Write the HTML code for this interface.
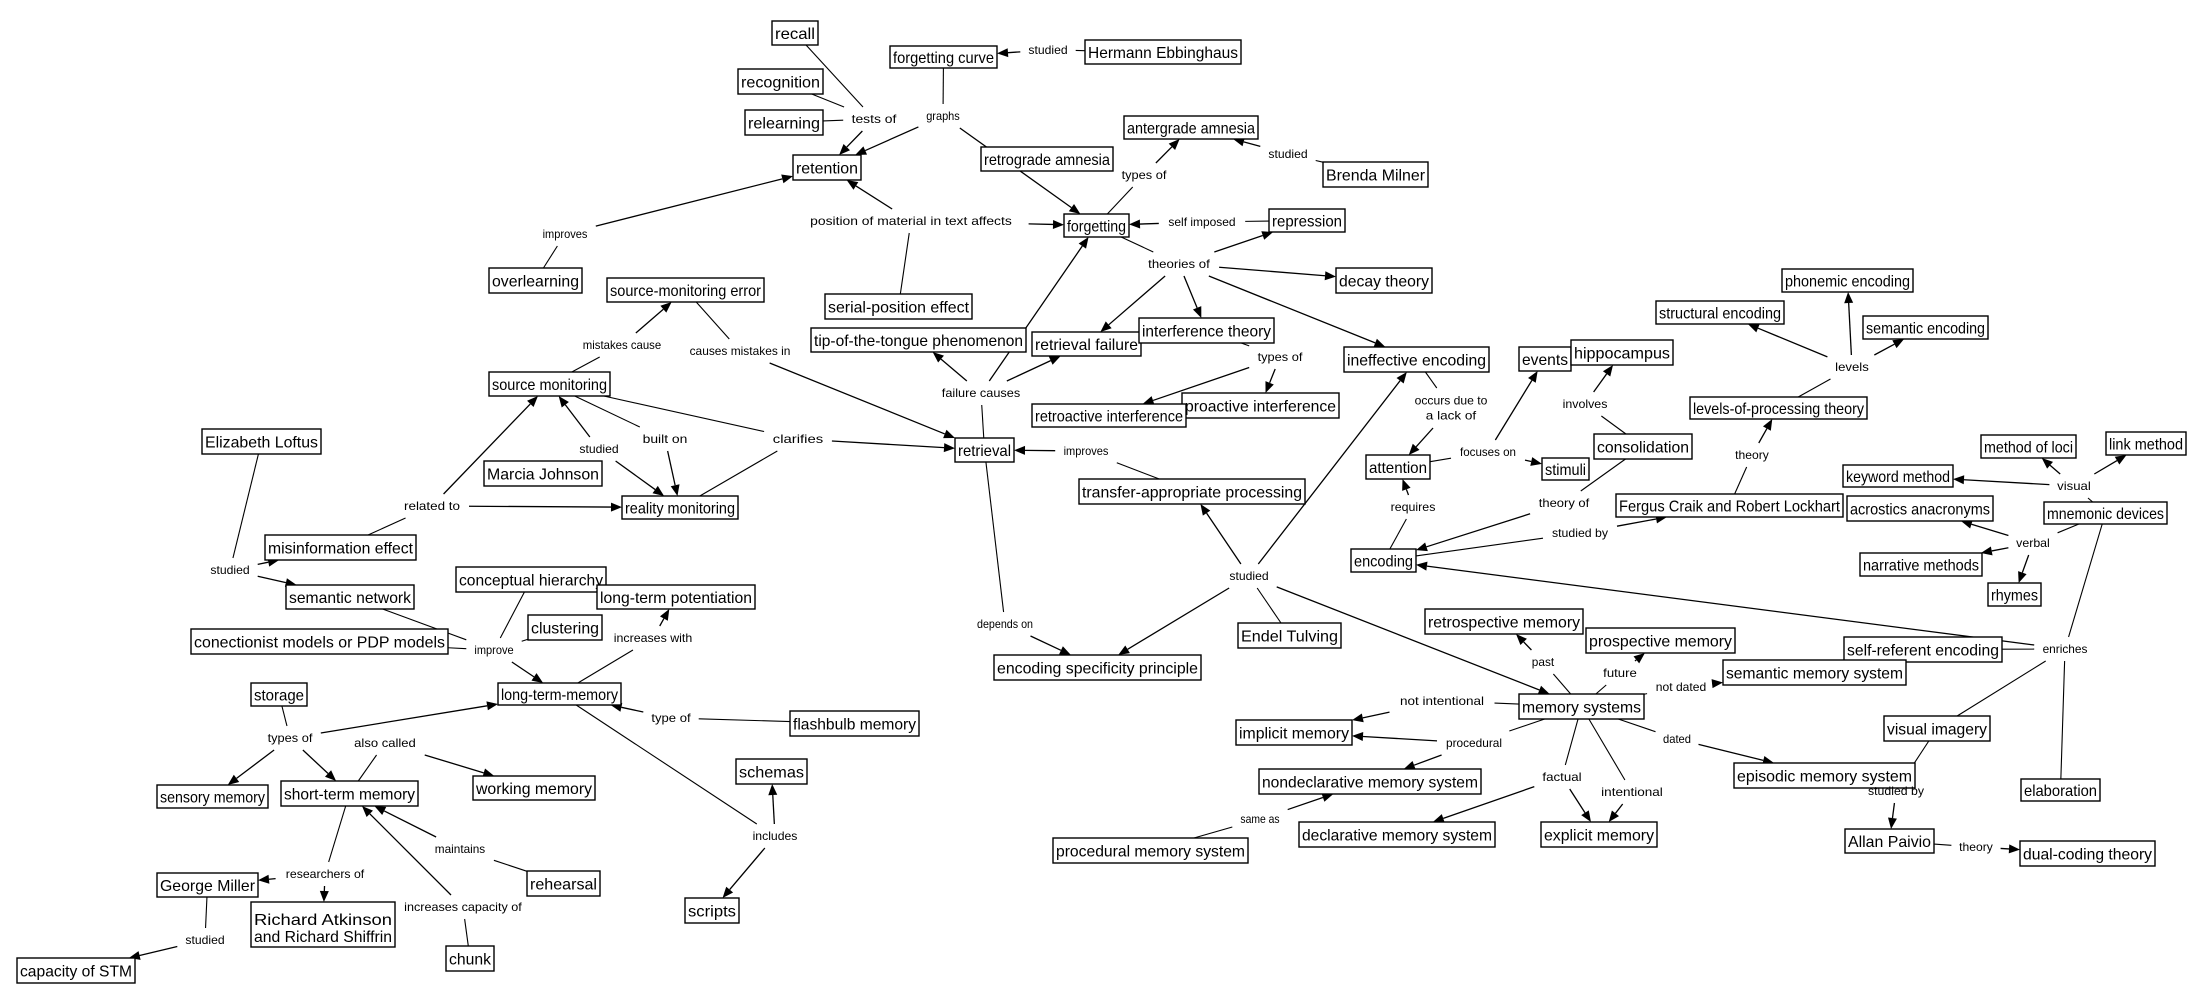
<!DOCTYPE html>
<html><head><meta charset="utf-8">
<style>
html,body{margin:0;padding:0;background:#fff;width:2202px;height:1003px;overflow:hidden}
svg{display:block}
.n{font-family:"Liberation Sans",sans-serif;font-size:16px;fill:#000}
.l{font-family:"Liberation Sans",sans-serif;font-size:12px;fill:#000}
</style></head>
<body>
<svg id="s" xmlns="http://www.w3.org/2000/svg" width="2202" height="1003" viewBox="0 0 2202 1003"></svg>
<script>
var N={
recall:[772,21,818,45,"recall"],
fcurve:[890,46,997,68,"forgetting curve"],
herm:[1085,40,1241,64,"Hermann Ebbinghaus"],
recog:[738,69,823,94,"recognition"],
relearn:[745,110,823,135,"relearning"],
retention:[793,155,861,180,"retention"],
retro:[981,147,1113,171,"retrograde amnesia"],
forgetting:[1064,214,1129,237,"forgetting"],
overl:[489,268,582,293,"overlearning"],
sme:[607,278,764,302,"source-monitoring error"],
serial:[825,294,972,319,"serial-position effect"],
tot:[811,328,1026,352,"tip-of-the-tongue phenomenon"],
rfail:[1032,332,1141,356,"retrieval failure"],
sm:[489,372,610,396,"source monitoring"],
loftus:[202,429,321,454,"Elizabeth Loftus"],
retrieval:[955,438,1014,462,"retrieval"],
marcia:[484,461,602,486,"Marcia Johnson"],
reality:[622,496,738,519,"reality monitoring"],
tap:[1079,479,1305,504,"transfer-appropriate processing"],
anter:[1124,116,1258,139,"antergrade amnesia"],
milner:[1323,162,1428,187,"Brenda Milner"],
repr:[1269,209,1345,232,"repression"],
decay:[1336,268,1432,293,"decay theory"],
interf:[1139,318,1274,343,"interference theory"],
ineff:[1344,347,1489,372,"ineffective encoding"],
proact:[1182,393,1339,418,"proactive interference"],
retroact:[1032,404,1186,427,"retroactive interference"],
events:[1519,347,1571,371,"events"],
hippo:[1571,340,1673,365,"hippocampus"],
consol:[1594,434,1692,459,"consolidation"],
attention:[1366,455,1430,479,"attention"],
stimuli:[1542,458,1589,480,"stimuli"],
phon:[1782,269,1913,292,"phonemic encoding"],
struct:[1656,301,1784,324,"structural encoding"],
semenc:[1863,316,1988,339,"semantic encoding"],
lop:[1690,397,1867,419,"levels-of-processing theory"],
loci:[1981,435,2076,458,"method of loci"],
link:[2106,432,2186,455,"link method"],
keyword:[1843,465,1953,487,"keyword method"],
fergus:[1616,494,1843,517,"Fergus Craik and Robert Lockhart"],
acro:[1847,496,1993,521,"acrostics anacronyms"],
mnem:[2044,502,2167,524,"mnemonic devices"],
encoding:[1351,549,1416,572,"encoding"],
narr:[1860,553,1982,576,"narrative methods"],
rhymes:[1988,583,2041,606,"rhymes"],
tulving:[1238,623,1341,648,"Endel Tulving"],
retrosp:[1425,609,1583,634,"retrospective memory"],
prosp:[1586,628,1735,653,"prospective memory"],
selfref:[1844,637,2002,662,"self-referent encoding"],
semsys:[1723,660,1906,685,"semantic memory system"],
esp:[994,655,1201,680,"encoding specificity principle"],
memsys:[1519,694,1644,719,"memory systems"],
implicit:[1236,720,1352,745,"implicit memory"],
visimg:[1884,716,1990,741,"visual imagery"],
nondecl:[1259,769,1481,794,"nondeclarative memory system"],
episodic:[1734,763,1915,788,"episodic memory system"],
elab:[2021,779,2100,801,"elaboration"],
decl:[1299,822,1495,847,"declarative memory system"],
explicit:[1541,822,1657,847,"explicit memory"],
procsys:[1053,838,1248,863,"procedural memory system"],
paivio:[1845,829,1934,853,"Allan Paivio"],
dual:[2020,841,2155,866,"dual-coding theory"],
misinfo:[265,535,416,560,"misinformation effect"],
semnet:[286,585,414,609,"semantic network"],
concept:[456,567,606,592,"conceptual hierarchy"],
ltp:[597,585,755,609,"long-term potentiation"],
cluster:[528,615,602,640,"clustering"],
connect:[191,629,448,654,"conectionist models or PDP models"],
ltm:[498,683,621,705,"long-term-memory"],
storage:[251,683,307,706,"storage"],
flash:[790,711,919,736,"flashbulb memory"],
sensory:[157,785,268,808,"sensory memory"],
stm:[281,781,418,806,"short-term memory"],
working:[473,776,595,800,"working memory"],
schemas:[736,759,807,784,"schemas"],
miller:[157,873,258,897,"George Miller"],
rehearsal:[527,871,600,896,"rehearsal"],
atkinson:[251,902,395,947,"Richard Atkinson|and Richard Shiffrin"],
scripts:[685,898,739,923,"scripts"],
chunk:[446,946,494,971,"chunk"],
capstm:[17,958,135,983,"capacity of STM"]
};
var L=[
["tests of",874,119,["recall","recog","relearn"],["retention"]],
["graphs",943,116,["fcurve"],["retention","forgetting"]],
["studied",1048,50,["herm"],["fcurve"]],
["types of",1144,175,["forgetting","retro"],["anter"]],
["studied",1288,154,["milner"],["anter"]],
["position of material in text affects",911,221,["serial"],["retention","forgetting"]],
["self imposed",1202,222,["repr"],["forgetting"]],
["theories of",1179,264,["forgetting"],["repr","decay","rfail","interf","ineff"]],
["improves",565,234,["overl"],["retention"]],
["mistakes cause",622,345,["sm"],["sme"]],
["causes mistakes in",740,351,["sme"],["retrieval"]],
["failure causes",981,393,["retrieval"],["tot","rfail","forgetting"]],
["types of",1280,357,["interf"],["proact","retroact"]],
["clarifies",798,439,["sm","reality"],["retrieval"]],
["built on",665,439,["sm"],["reality"]],
["studied",599,449,["marcia"],["sm","reality"]],
["related to",432,506,["misinfo"],["sm","reality"]],
["improves",1086,451,["tap"],["retrieval"]],
["depends on",1005,624,["retrieval"],["esp"]],
["studied",230,570,["loftus"],["misinfo","semnet"]],
["improve",494,650,["semnet","connect","concept","cluster"],["ltm"]],
["increases with",653,638,["ltm"],["ltp"]],
["types of",290,738,["storage"],["sensory","stm","ltm"]],
["also called",385,743,["stm"],["working"]],
["type of",671,718,["flash"],["ltm"]],
["includes",775,836,["ltm"],["schemas","scripts"]],
["maintains",460,849,["rehearsal"],["stm"]],
["researchers of",325,874,["stm"],["miller","atkinson"]],
["increases capacity of",463,907,["chunk"],["stm"]],
["studied",205,940,["miller"],["capstm"]],
["studied",1249,576,["tulving"],["tap","ineff","esp","memsys"]],
["occurs due to|a lack of",1451,408,["ineff"],["attention"]],
["focuses on",1488,452,["attention"],["events","stimuli"]],
["involves",1585,404,["consol"],["hippo"]],
["theory of",1564,503,["consol"],["encoding"]],
["requires",1413,507,["encoding"],["attention"]],
["studied by",1580,533,["encoding"],["fergus"]],
["theory",1752,455,["fergus"],["lop"]],
["levels",1852,367,["lop"],["struct","phon","semenc"]],
["visual",2074,486,["mnem"],["loci","link","keyword"]],
["verbal",2033,543,["mnem"],["acro","narr","rhymes"]],
["enriches",2065,649,["mnem","selfref","visimg","elab"],["encoding"]],
["past",1543,662,["memsys"],["retrosp"]],
["future",1620,673,["memsys"],["prosp"]],
["not dated",1681,687,["memsys"],["semsys"]],
["dated",1677,739,["memsys"],["episodic"]],
["not intentional",1442,701,["memsys"],["implicit"]],
["procedural",1474,743,["memsys"],["implicit","nondecl"]],
["factual",1562,777,["memsys"],["decl","explicit"]],
["intentional",1632,792,["memsys"],["explicit"]],
["same as",1260,819,["procsys"],["nondecl"]],
["studied by",1896,791,["visimg"],["paivio"]],
["theory",1976,847,["paivio"],["dual"]]
];
var s=document.getElementById("s"),out=[];
function clip(cx,cy,tx,ty,hw,hh){var dx=tx-cx,dy=ty-cy;if(!dx&&!dy)return[cx,cy];var t=Math.min(dx?hw/Math.abs(dx):1e9,dy?hh/Math.abs(dy):1e9);return[cx+dx*t,cy+dy*t];}
function nc(k){var n=N[k];return[(n[0]+n[2])/2,(n[1]+n[3])/2,(n[2]-n[0])/2,(n[3]-n[1])/2];}
L.forEach(function(l){
  var parts=l[0].split("|"),mx=0;parts.forEach(function(p){mx=Math.max(mx,p.length)});
  var lw=mx*3.1+6,lh=parts.length*8+4,x=l[1],y=l[2];
  function seg(k,arrow){
    var c=nc(k),a=clip(x,y,c[0],c[1],lw,lh),b=clip(c[0],c[1],x,y,c[2],c[3]);
    if(arrow){var dx=b[0]-a[0],dy=b[1]-a[1],d=Math.hypot(dx,dy)||1,ux=dx/d,uy=dy/d,bx=b[0]-ux*11,by=b[1]-uy*11;
      out.push('<line x1="'+a[0]+'" y1="'+a[1]+'" x2="'+bx+'" y2="'+by+'" stroke="#000" stroke-width="1.3"/>');
      out.push('<polygon points="'+b[0]+','+b[1]+' '+(bx-uy*4.5)+','+(by+ux*4.5)+' '+(bx+uy*4.5)+','+(by-ux*4.5)+'" fill="#000"/>');}
    else out.push('<line x1="'+b[0]+'" y1="'+b[1]+'" x2="'+a[0]+'" y2="'+a[1]+'" stroke="#000" stroke-width="1.1"/>');
  }
  l[3].forEach(function(k){seg(k,false)});l[4].forEach(function(k){seg(k,true)});
});
for(var k in N){var n=N[k],w=n[2]-n[0],h=n[3]-n[1];
  out.push('<rect x="'+n[0]+'" y="'+n[1]+'" width="'+w+'" height="'+h+'" fill="#fff" stroke="#000" stroke-width="1.4"/>');
  var ps=n[4].split("|");
  ps.forEach(function(p,i){var ty=ps.length==1?n[1]+h/2+6:n[1]+6+ (i+1)*17;
    var tl=Math.min(w-6,p.length*8.5);
    out.push('<text class="n" x="'+(n[0]+w/2)+'" y="'+ty+'" text-anchor="middle" textLength="'+(w-6)+'" lengthAdjust="spacingAndGlyphs">'+p+'</text>');});
}
L.forEach(function(l){var ps=l[0].split("|");ps.forEach(function(p,i){
  var ty=l[2]+4+(i-(ps.length-1)/2)*15;
  out.push('<text class="l" x="'+l[1]+'" y="'+ty+'" text-anchor="middle" textLength="'+(p.length*5.6)+'" lengthAdjust="spacingAndGlyphs">'+p+'</text>');});});
s.innerHTML=out.join("");
</script>
</body></html>
